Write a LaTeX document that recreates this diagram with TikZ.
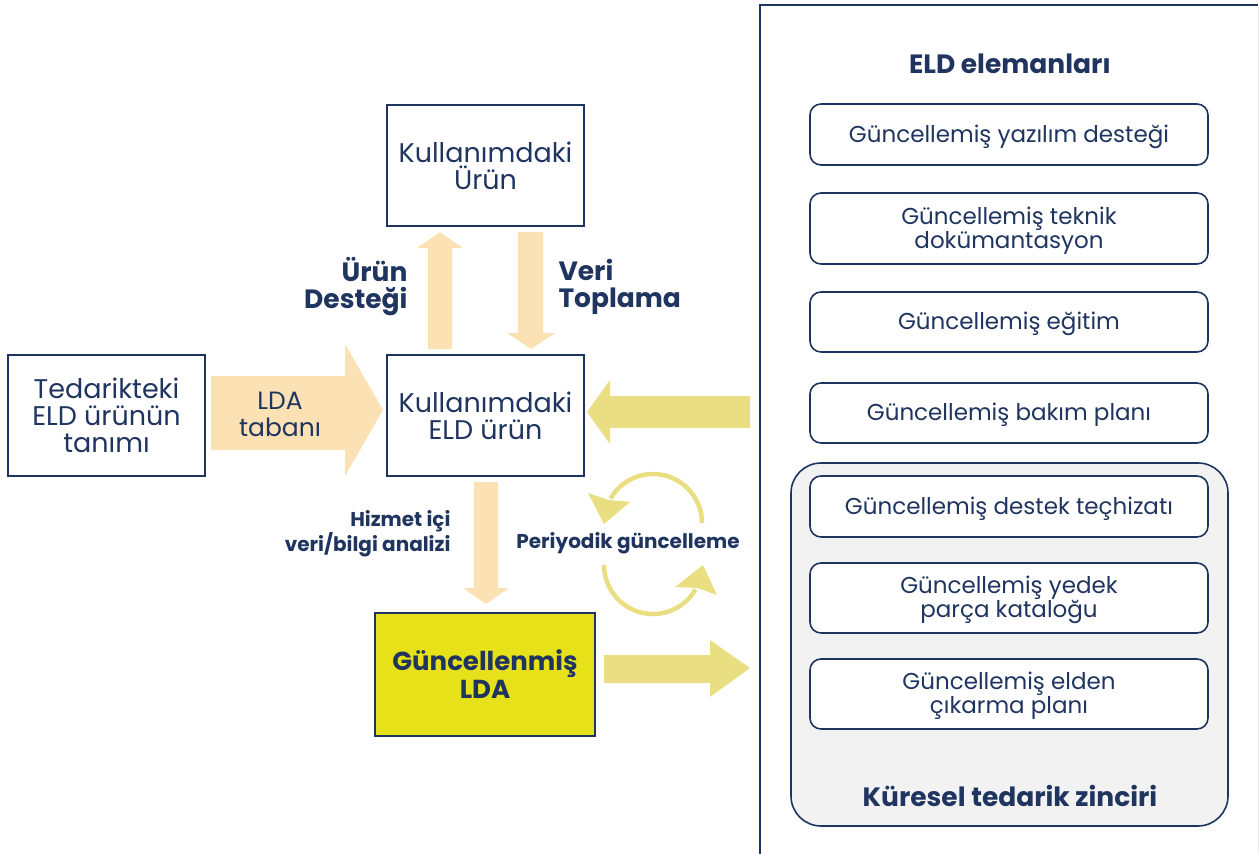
\documentclass[tikz,border=0pt]{standalone}
\usepackage{fontspec}
\setmainfont{Poppins}
\usetikzlibrary{calc}
\definecolor{navy}{HTML}{1F3560}
\definecolor{peach}{HTML}{FCE1B5}
\definecolor{paleyellow}{HTML}{E9DF82}
\definecolor{ldayellow}{HTML}{E6E118}
\definecolor{panelgray}{HTML}{F2F2F2}
\definecolor{edgegray}{HTML}{EAEAEA}
\begin{document}
\begin{tikzpicture}[x=1pt,y=-1pt,
  txt/.style={text=navy,align=center,font=\fontsize{27}{27}\selectfont},
  boldtxt/.style={text=navy,align=center,font=\fontsize{26.5}{27}\selectfont\bfseries},
  smallbold/.style={text=navy,font=\fontsize{20}{24}\selectfont\bfseries},
  flowbox/.style={draw=navy,line width=2pt,minimum width=197pt,minimum height=121pt,inner sep=0pt,txt},
  eldbox/.style={draw=navy,line width=1.6pt,rounded corners=11pt,fill=white,minimum width=398pt,inner sep=0pt,
    text=navy,align=center,font=\fontsize{23}{24}\selectfont},
  eldtext/.style={text=navy,align=center,font=\fontsize{23}{24}\selectfont,yshift=-2pt},
  cyc/.style={draw=paleyellow,line width=4.5pt}
]
\useasboundingbox (0,0) rectangle (1259,854);

% right-hand panel
\draw[edgegray,line width=1pt] (1258.5,6) -- (1258.5,854);
\draw[navy,line width=1.6pt] (760,860) -- (760,5) -- (1258,5);
\node[boldtxt] (eldhead) at (1010,64) {ELD elemanları};
\node[eldbox,minimum height=61pt] (e1) at (1009,134.5) {};
\node[eldbox,minimum height=71pt] (e2) at (1009,228.5) {};
\node[eldbox,minimum height=60pt] (e3) at (1009,322) {};
\node[eldbox,minimum height=60pt] (e4) at (1009,413) {};
\draw[navy,line width=1.6pt,fill=panelgray,rounded corners=30pt] (791,463) rectangle (1228,826);
\node[eldbox,minimum height=61pt] (e5) at (1009,506.5) {};
\node[eldbox,minimum height=70pt] (e6) at (1009,598) {};
\node[eldbox,minimum height=70pt] (e7) at (1009,694) {};
\node[eldtext] (t1) at (e1.center) {Güncellemiş yazılım desteği};
\node[eldtext] (t2) at (e2.center) {Güncellemiş teknik\\dokümantasyon};
\node[eldtext] (t3) at (e3.center) {Güncellemiş eğitim};
\node[eldtext] (t4) at (e4.center) {Güncellemiş bakım planı};
\node[eldtext] (t5) at (e5.center) {Güncellemiş destek teçhizatı};
\node[eldtext] (t6) at (e6.center) {Güncellemiş yedek\\parça kataloğu};
\node[eldtext] (t7) at (e7.center) {Güncellemiş elden\\çıkarma planı};
\node[boldtxt] (chain) at (1010,796) {Küresel tedarik zinciri};

% flow boxes
\node[flowbox] (supply) at (106.5,415.5) {Tedarikteki\\ELD ürünün\\tanımı};
\node[flowbox] (use) at (485.5,165.5) {Kullanımdaki\\Ürün};
\node[flowbox] (eld) at (485.5,415.5) {Kullanımdaki\\ELD ürün};
\node[flowbox,fill=ldayellow,minimum width=220pt,minimum height=123pt] (lda) at (485,674.5) {};
\node[boldtxt,font=\fontsize{26}{28}\selectfont\bfseries] (ldatext) at (lda.center) {Güncellenmiş\\LDA};

% LDA tabanı arrow
\fill[peach] (211,376) -- (345,376) -- (345,344) -- (383,410) -- (345,476) -- (345,450) -- (211,450) -- cycle;
\node[txt,font=\fontsize{25}{27}\selectfont] (base) at (280,414) {LDA\\tabanı};

% Ürün Desteği (up) and Veri Toplama (down)
\fill[peach] (428,349) -- (428,248) -- (417,248) -- (440,232) -- (463,248) -- (452,248) -- (452,349) -- cycle;
\fill[peach] (518,232) -- (543,232) -- (543,333) -- (555,333) -- (531,349) -- (507,333) -- (518,333) -- cycle;
\node[boldtxt,align=right,anchor=east] (support) at (411,287) {Ürün\\Desteği};
\node[boldtxt,align=left,anchor=west] (collect) at (555,287) {Veri\\Toplama};

% ELD elements feed back into the product in use
\fill[paleyellow] (750,396) -- (610,396) -- (610,380) -- (587,412) -- (610,444) -- (610,428) -- (750,428) -- cycle;

% in-service analysis
\fill[peach] (474,482) -- (498,482) -- (498,588) -- (509,588) -- (486,604) -- (463,588) -- (474,588) -- cycle;
\node[smallbold,align=right,anchor=east] (analysis) at (454,534) {Hizmet içi\\veri/bilgi analizi};

% updated LDA feeds the ELD elements
\fill[paleyellow] (604,655) -- (710,655) -- (710,640) -- (750,668) -- (710,697) -- (710,683) -- (604,683) -- cycle;

% periodic update cycle
\draw[cyc] (702,523) arc[start angle=0,end angle=-150,radius=49];
\fill[paleyellow] (604,524) -- (588,493) -- (609,500) -- (630,502) -- cycle;
\draw[cyc] (604,565) arc[start angle=180,end angle=30,radius=49];
\fill[paleyellow] (703,565) -- (717,595) -- (697,588) -- (675,587) -- cycle;
\node[smallbold] (periodic) at (628,543) {Periyodik güncelleme};
\end{tikzpicture}
\end{document}
